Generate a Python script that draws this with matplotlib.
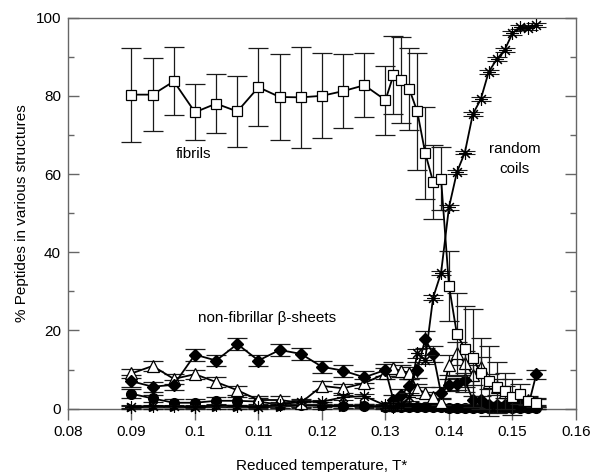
import matplotlib
matplotlib.use("Agg")
import matplotlib.pyplot as plt
from matplotlib.ticker import MultipleLocator, FormatStrFormatter

plt.rcParams['font.family'] = ['Liberation Sans', 'DejaVu Sans']

# Reduced temperatures sampled in the simulations
temperature = [0.09, 0.09333, 0.09667, 0.1, 0.10333, 0.10667, 0.11, 0.11333,
               0.11667, 0.12, 0.12333, 0.12667, 0.13, 0.13125, 0.1325, 0.13375,
               0.135, 0.13625, 0.1375, 0.13875, 0.14, 0.14125, 0.1425, 0.14375,
               0.145, 0.14625, 0.1475, 0.14875, 0.15, 0.15125, 0.1525, 0.15375]

# % of peptides in fibrils
fibrils = [80.3, 80.3, 83.7, 75.8, 78.0, 76.0, 82.2, 79.7, 79.6, 80.0, 81.2, 82.7,
           78.9, 85.3, 84.1, 81.7, 76.0, 65.4, 58.0, 58.8, 31.4, 19.0, 15.3, 13.0,
           9.0, 7.0, 5.5, 4.5, 3.0, 3.8, 2.0, 1.5]
fibrils_err = [12.0, 9.3, 8.7, 7.2, 7.5, 9.0, 9.9, 11.0, 13.0, 10.9, 9.5, 8.2,
               8.8, 9.9, 11.0, 10.5, 15.0, 11.8, 9.5, 8.0, 9.0, 10.6, 11.0, 12.5,
               9.0, 9.0, 6.5, 4.5, 4.6, 2.5, 1.0, 1.0]

# % of peptides in random coils
coils = [0.5, 0.7, 0.6, 0.5, 0.8, 0.7, 0.5, 1.0, 1.8, 1.8, 2.9, 3.2,
         0.8, 0.5, 1.0, 3.0, 14.1, 12.5, 28.4, 34.7, 51.5, 60.5, 65.5, 75.3,
         79.1, 86.1, 89.3, 91.7, 96.0, 97.7, 97.3, 98.1]
coils_err = [0.3, 0.3, 0.3, 0.3, 0.3, 0.3, 0.3, 0.4, 0.5, 0.5, 0.6, 0.6,
             0.5, 0.5, 0.6, 1.0, 1.2, 1.2, 0.6, 0.6, 0.6, 0.6, 0.5, 0.5,
             0.5, 0.5, 0.5, 0.5, 0.5, 0.5, 0.5, 0.5]

# % of peptides in non-fibrillar beta-sheets of different kinds
sheet_diamond = [7.0, 5.6, 6.1, 13.8, 12.3, 16.5, 12.3, 15.0, 14.0, 10.7, 9.7, 8.0,
                 9.9, 2.2, 3.5, 5.8, 9.9, 17.7, 14.0, 3.9, 6.0, 6.3, 7.3, 2.2,
                 2.2, 1.0, 1.0, 0.8, 0.8, 0.8, 0.8, 8.8]
sheet_diamond_err = [1.5, 1.3, 1.3, 1.5, 1.5, 1.6, 1.5, 1.5, 1.6, 1.5, 1.5, 1.5,
                     1.5, 1.2, 1.5, 1.8, 2.0, 2.1, 2.0, 1.5, 1.5, 1.5, 1.8, 1.0,
                     1.0, 0.8, 0.8, 0.6, 0.6, 0.6, 0.6, 1.2]

sheet_triangle = [9.0, 10.9, 7.6, 8.8, 6.8, 4.7, 2.2, 2.2, 1.5, 5.8, 5.2, 6.5,
                  9.0, 10.3, 9.6, 9.2, 4.9, 4.1, 3.0, 1.8, 11.2, 14.1, 11.7, 8.6,
                  10.7, 6.9, 5.6, 4.3, 1.8, 1.8, 2.2, 1.8]
sheet_triangle_err = [1.2, 1.2, 1.2, 1.2, 1.2, 1.2, 1.0, 1.0, 1.0, 1.2, 1.2, 1.2,
                      1.5, 1.5, 1.5, 1.5, 1.5, 1.5, 1.2, 1.0, 2.5, 3.0, 3.0, 2.5,
                      2.5, 2.0, 2.0, 1.5, 1.0, 1.0, 1.0, 1.0]

sheet_circle = [3.8, 2.6, 1.5, 1.5, 2.0, 2.0, 1.8, 1.0, 1.0, 0.8, 0.7, 0.7,
                0.3, 0.3, 0.3, 0.3, 0.3, 0.3, 0.3, 0.3, 0.2, 0.2, 0.2, 0.2,
                0.2, 0.2, 0.2, 0.2, 0.2, 0.2, 0.2, 0.2]
sheet_circle_err = [1.2, 1.0, 1.0, 1.0, 1.0, 1.0, 1.0, 0.8, 0.8, 0.8, 0.6, 0.6,
                    0.4, 0.4, 0.4, 0.4, 0.4, 0.4, 0.4, 0.4, 0.3, 0.3, 0.3, 0.3,
                    0.3, 0.3, 0.3, 0.3, 0.3, 0.3, 0.3, 0.3]

sheet_right = [0.3, 0.3, 0.3, 0.3, 0.4, 0.3, 0.3, 0.5, 0.8, 0.7, 0.5, 0.8,
               0.5, 0.3, 0.3, 0.3, 0.3, 0.3, 0.3, 0.3, 0.2, 0.2, 0.2, 0.2,
               0.2, 0.2, 0.2, 0.2, 0.2, 0.2, 0.2, 0.2]
sheet_right_err = [0.4] * len(temperature)

fig = plt.figure(figsize=(6.0, 4.72), dpi=100)
ax = fig.add_axes([0.1133, 0.1343, 0.8467, 0.8284])

common = dict(color='black', ecolor='0.1', elinewidth=0.9, capsize=7.5,
              capthick=0.9, linewidth=1.3, clip_on=False)

ax.errorbar(temperature, sheet_right, yerr=sheet_right_err, marker='>',
            markersize=6, markerfacecolor='black', zorder=3, **common)
ax.errorbar(temperature, sheet_circle, yerr=sheet_circle_err, marker='o',
            markersize=7, markerfacecolor='black', zorder=3, **common)
ax.errorbar(temperature, sheet_triangle, yerr=sheet_triangle_err, marker='^',
            markersize=8, markerfacecolor='white', markeredgewidth=0.9,
            zorder=4, **common)
ax.errorbar(temperature, sheet_diamond, yerr=sheet_diamond_err, marker='D',
            markersize=6.5, markerfacecolor='black', zorder=4, **common)
ax.errorbar(temperature, coils, yerr=coils_err, marker=(8, 2, 0),
            markersize=9, markeredgewidth=0.8, zorder=5, **common)
ax.errorbar(temperature, fibrils, yerr=fibrils_err, marker='s',
            markersize=6.5, markerfacecolor='white', markeredgewidth=0.9,
            zorder=6, **common)

ax.text(0.0997, 65.0, 'fibrils', fontsize=11, ha='center', va='center')
ax.text(0.1503, 63.8, 'random\ncoils', fontsize=11, ha='center', va='center',
        linespacing=1.5)
ax.text(0.1113, 23.3, 'non-fibrillar \u03b2-sheets', fontsize=11,
        ha='center', va='center')

ax.set_xlim(0.08, 0.16)
ax.set_ylim(0, 100)
ax.xaxis.set_major_locator(MultipleLocator(0.01))
ax.xaxis.set_major_formatter(FormatStrFormatter('%g'))
ax.yaxis.set_major_locator(MultipleLocator(20))
ax.yaxis.set_minor_locator(MultipleLocator(10))

for side in ax.spines.values():
    side.set_color('0.4')
    side.set_linewidth(1.0)

ax.tick_params(axis='x', which='major', direction='out', length=8, width=1.0,
               color='0.4', labelsize=11, pad=4, top=False)
ax.tick_params(axis='y', which='major', direction='in', length=8, width=1.0,
               color='0.4', labelsize=11, pad=5, right=True)
ax.tick_params(axis='y', which='minor', direction='in', length=4, width=1.0,
               color='0.4', right=True)

ax.set_xlabel('Reduced temperature, T*', fontsize=11, labelpad=14)
ax.set_ylabel('% Peptides in various structures', fontsize=11, labelpad=4.5)

fig.savefig('out.png', dpi=100)
